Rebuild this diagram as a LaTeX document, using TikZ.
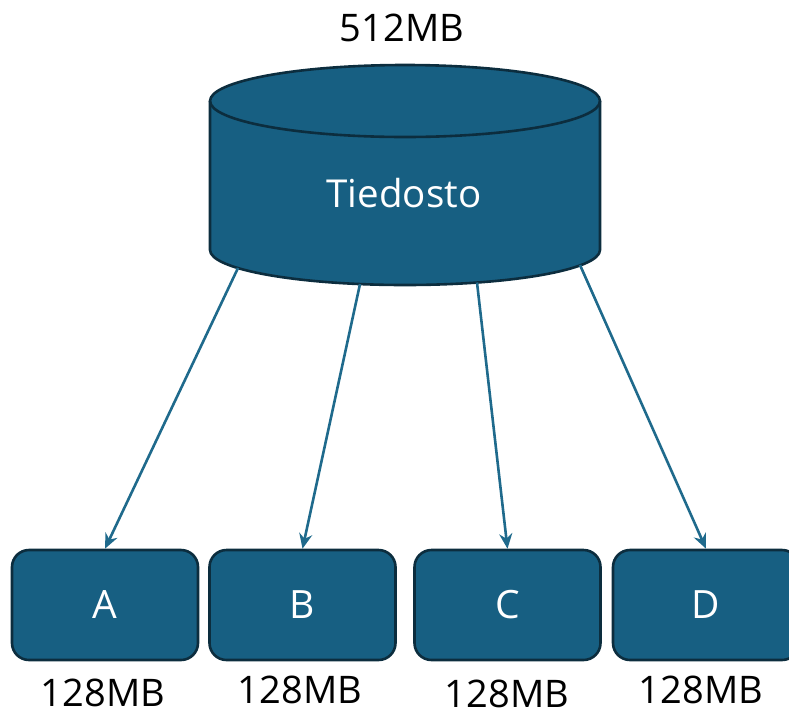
\documentclass[tikz,border=0pt]{standalone}
\usepackage{fontspec}
\setmainfont{Open Sans}
\usetikzlibrary{arrows.meta}
\definecolor{fillblue}{HTML}{175F82}
\definecolor{edgedark}{HTML}{0C2D3E}
\definecolor{arrowblue}{HTML}{1F6A8C}
\tikzset{
  x=1pt,y=-1pt,
  blockbox/.style={draw=edgedark, line width=2.6pt, fill=fillblue, rounded corners=17pt,
    minimum width=186pt, minimum height=110pt, inner sep=0pt, text=white,
    font=\fontsize{39}{39}\selectfont},
  sizelabel/.style={font=\fontsize{38}{38}\selectfont, text=black, inner sep=0pt},
  feed/.style={draw=arrowblue, line width=2.6pt, -{Stealth[length=15pt,width=13pt]}}
}
\begin{document}
\begin{tikzpicture}
\useasboundingbox (0,0) rectangle (789,713);
% cylinder
\fill[fillblue] (210,101) -- (210,250) arc[start angle=180,end angle=360,x radius=195,y radius=-35] -- (600,101) arc[start angle=0,end angle=180,x radius=195,y radius=-36] -- cycle;
\draw[edgedark, line width=2.6pt] (210,101) -- (210,250) arc[start angle=180,end angle=360,x radius=195,y radius=-35] -- (600,101);
\draw[edgedark, line width=2.6pt] (405,101) ellipse[x radius=195, y radius=36];
\node[text=white, font=\fontsize{38.5}{38.5}\selectfont] (file) at (404,193) {Tiedosto};
\node[sizelabel] (total) at (402,28) {512MB};
% anchor points on the bottom rim
\coordinate (sA) at (238,268);
\coordinate (sB) at (360,284);
\coordinate (sC) at (477,282.5);
\coordinate (sD) at (580,265);
% blocks
\node[blockbox] (A) at (105,605) {A};
\node[blockbox] (B) at (302.5,605) {B};
\node[blockbox] (C) at (507.5,605) {C};
\node[blockbox] (D) at (706,605) {D};
\node[sizelabel] (lA) at (103,693) {128MB};
\node[sizelabel] (lB) at (300,690) {128MB};
\node[sizelabel] (lC) at (507,694) {128MB};
\node[sizelabel] (lD) at (701,690) {128MB};
% connectors
\draw[feed] (sA) -- (A.north);
\draw[feed] (sB) -- (B.north);
\draw[feed] (sC) -- (C.north);
\draw[feed] (sD) -- (D.north);
\end{tikzpicture}
\end{document}
